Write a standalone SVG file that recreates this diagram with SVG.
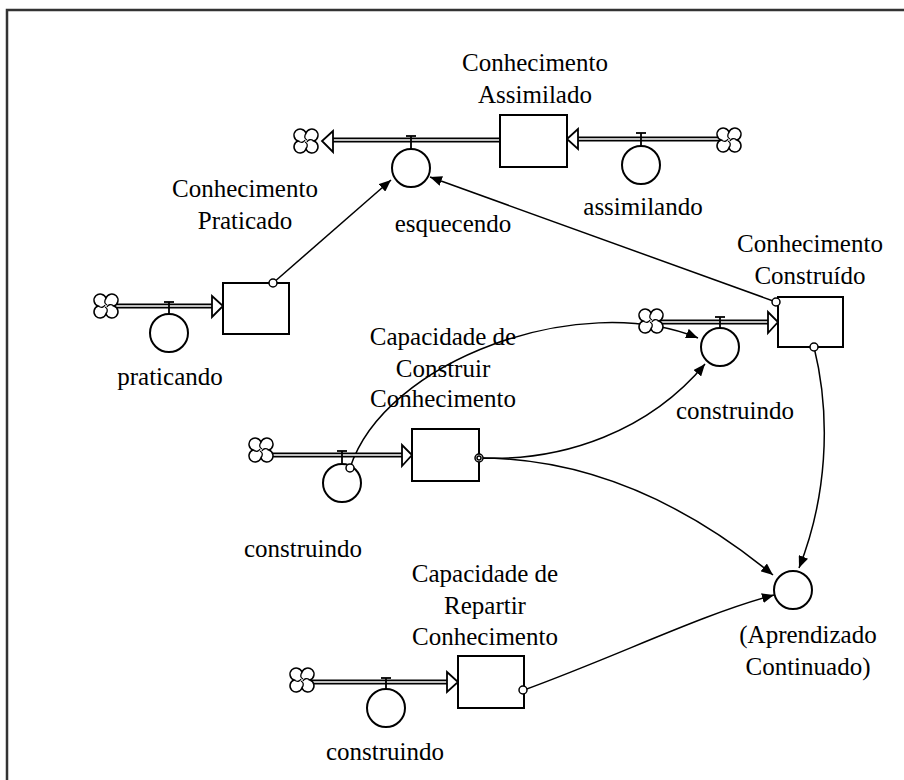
<svg xmlns="http://www.w3.org/2000/svg" width="904" height="780" viewBox="0 0 904 780">
<defs>
<style>
.t{font-family:"Liberation Serif","Times New Roman",serif;font-size:25px;fill:#000;text-anchor:middle}
.stock{fill:#fff;stroke:#000;stroke-width:2}
.valve{fill:#fff;stroke:#000;stroke-width:2}
.pipeo{stroke:#000;stroke-width:5;fill:none}
.pipei{stroke:#fff;stroke-width:1.6;fill:none}
.head{fill:#fff;stroke:#000;stroke-width:1.8;stroke-linejoin:miter}
.stem{stroke:#000;stroke-width:1.8;fill:none}
.conn{stroke:#000;stroke-width:1.5;fill:none;marker-end:url(#ah)}
.dot{fill:#fff;stroke:#000;stroke-width:1.5}
.cloud{fill:#fff;stroke:#000;stroke-width:1.5}
.swirl{fill:none;stroke:#000;stroke-width:1.3}
</style>
<marker id="ah" viewBox="0 0 12 10" refX="12" refY="5" markerWidth="12" markerHeight="10" markerUnits="userSpaceOnUse" orient="auto">
<path d="M0,0 L12,5 L0,10 Z" fill="#000"/>
</marker>
<g id="cloud">
<path class="cloud" d="M0,-8 A6.2,6.2 0 1 1 8,0 A6.2,6.2 0 1 1 0,8 A6.2,6.2 0 1 1 -8,0 A6.2,6.2 0 1 1 0,-8 Z"/>
<path class="swirl" d="M0,-8 Q-3,-3 1,-1 M8,0 Q3,-3 1,1 M0,8 Q3,3 -1,1 M-8,0 Q-3,3 -1,-1"/>
</g>
</defs>
<rect width="904" height="780" fill="#fff"/>
<path d="M7,780 L7,10 L904,10" fill="none" stroke="#333" stroke-width="2.5"/>

<g id="connectors">
<path class="conn" d="M273,283 L391,180"/>
<path class="conn" d="M776,302 L430,177"/>
<path class="conn" d="M350,468 C385,360 580,290 698,338"/>
<path class="conn" d="M479,458 C565,462 650,430 705,364"/>
<path class="conn" d="M479,458 C600,458 700,515 773,575"/>
<path class="conn" d="M814,347 C832,420 826,500 799,568"/>
<path class="conn" d="M524,690 C620,655 700,615 774,595"/>
</g>

<g id="flow-esquecendo">
<line class="pipeo" x1="326" y1="140" x2="500" y2="140"/>
<line class="pipei" x1="326" y1="140" x2="500" y2="140"/>
<path class="head" d="M333,131 L322,141 L333,152 Z"/>
<use href="#cloud" x="306" y="141"/>
<line class="stem" x1="411" y1="136" x2="411" y2="149"/>
<line class="stem" x1="406" y1="136" x2="416" y2="136"/>
<circle class="valve" cx="411" cy="168" r="19"/>
<text class="t" x="453" y="232">esquecendo</text>
</g>

<g id="flow-assimilando">
<line class="pipeo" x1="574" y1="139" x2="719" y2="139"/>
<line class="pipei" x1="574" y1="139" x2="719" y2="139"/>
<path class="head" d="M578,129 L567,139 L578,149 Z"/>
<use href="#cloud" x="729" y="140"/>
<line class="stem" x1="641" y1="133" x2="641" y2="146"/>
<line class="stem" x1="636" y1="133" x2="646" y2="133"/>
<circle class="valve" cx="641" cy="165" r="19"/>
<text class="t" x="643" y="215">assimilando</text>
</g>

<g id="stock-assimilado">
<rect class="stock" x="500" y="115" width="67" height="52"/>
<text class="t" x="535" y="71">Conhecimento</text>
<text class="t" x="535" y="103">Assimilado</text>
</g>

<g id="flow-praticando">
<line class="pipeo" x1="116" y1="306" x2="213" y2="306"/>
<line class="pipei" x1="116" y1="306" x2="213" y2="306"/>
<path class="head" d="M212,296 L223,306 L212,317 Z"/>
<use href="#cloud" x="106" y="306"/>
<line class="stem" x1="169" y1="302" x2="169" y2="314"/>
<line class="stem" x1="164" y1="302" x2="174" y2="302"/>
<circle class="valve" cx="169" cy="333" r="19"/>
<text class="t" x="170" y="385">praticando</text>
</g>

<g id="stock-praticado">
<rect class="stock" x="223" y="283" width="66" height="51"/>
<circle class="dot" cx="273" cy="283" r="4"/>
<text class="t" x="245" y="197">Conhecimento</text>
<text class="t" x="245" y="229">Praticado</text>
</g>

<g id="flow-construindo-top">
<line class="pipeo" x1="661" y1="322" x2="770" y2="322"/>
<line class="pipei" x1="661" y1="322" x2="770" y2="322"/>
<path class="head" d="M768,312 L778,322 L768,333 Z"/>
<use href="#cloud" x="651" y="321"/>
<line class="stem" x1="720" y1="317" x2="720" y2="328"/>
<line class="stem" x1="715" y1="317" x2="725" y2="317"/>
<circle class="valve" cx="720" cy="347" r="19"/>
<text class="t" x="735" y="419">construindo</text>
</g>

<g id="stock-construido">
<rect class="stock" x="778" y="297" width="65" height="50"/>
<circle class="dot" cx="776" cy="302" r="4"/>
<circle class="dot" cx="814" cy="347" r="4"/>
<text class="t" x="810" y="252">Conhecimento</text>
<text class="t" x="810" y="284">Construído</text>
</g>

<g id="flow-construindo-mid">
<line class="pipeo" x1="271" y1="455" x2="404" y2="455"/>
<line class="pipei" x1="271" y1="455" x2="404" y2="455"/>
<path class="head" d="M402,445 L412,455 L402,466 Z"/>
<use href="#cloud" x="261" y="450"/>
<line class="stem" x1="342" y1="451" x2="342" y2="464"/>
<line class="stem" x1="337" y1="451" x2="347" y2="451"/>
<circle class="valve" cx="342" cy="483" r="19"/>
<circle class="dot" cx="350" cy="468" r="4"/>
<text class="t" x="303" y="557">construindo</text>
</g>

<g id="stock-capacidade-construir">
<rect class="stock" x="412" y="429" width="67" height="52"/>
<circle class="dot" cx="479" cy="458" r="4"/>
<circle class="dot" cx="479" cy="458" r="2"/>
<text class="t" x="443" y="345">Capacidade de</text>
<text class="t" x="443" y="377">Construir</text>
<text class="t" x="443" y="407">Conhecimento</text>
</g>

<g id="flow-construindo-low">
<line class="pipeo" x1="312" y1="682" x2="449" y2="682"/>
<line class="pipei" x1="312" y1="682" x2="449" y2="682"/>
<path class="head" d="M447,672 L458,682 L447,692 Z"/>
<use href="#cloud" x="302" y="680"/>
<line class="stem" x1="386" y1="678" x2="386" y2="689"/>
<line class="stem" x1="381" y1="678" x2="391" y2="678"/>
<circle class="valve" cx="386" cy="708" r="19"/>
<text class="t" x="385" y="760">construindo</text>
</g>

<g id="stock-capacidade-repartir">
<rect class="stock" x="458" y="656" width="66" height="52"/>
<circle class="dot" cx="523" cy="690" r="4"/>
<text class="t" x="485" y="582">Capacidade de</text>
<text class="t" x="485" y="614">Repartir</text>
<text class="t" x="485" y="645">Conhecimento</text>
</g>

<g id="aux-aprendizado">
<circle class="valve" cx="793" cy="590" r="19"/>
<text class="t" x="808" y="643">(Aprendizado</text>
<text class="t" x="808" y="675">Continuado)</text>
</g>
</svg>
